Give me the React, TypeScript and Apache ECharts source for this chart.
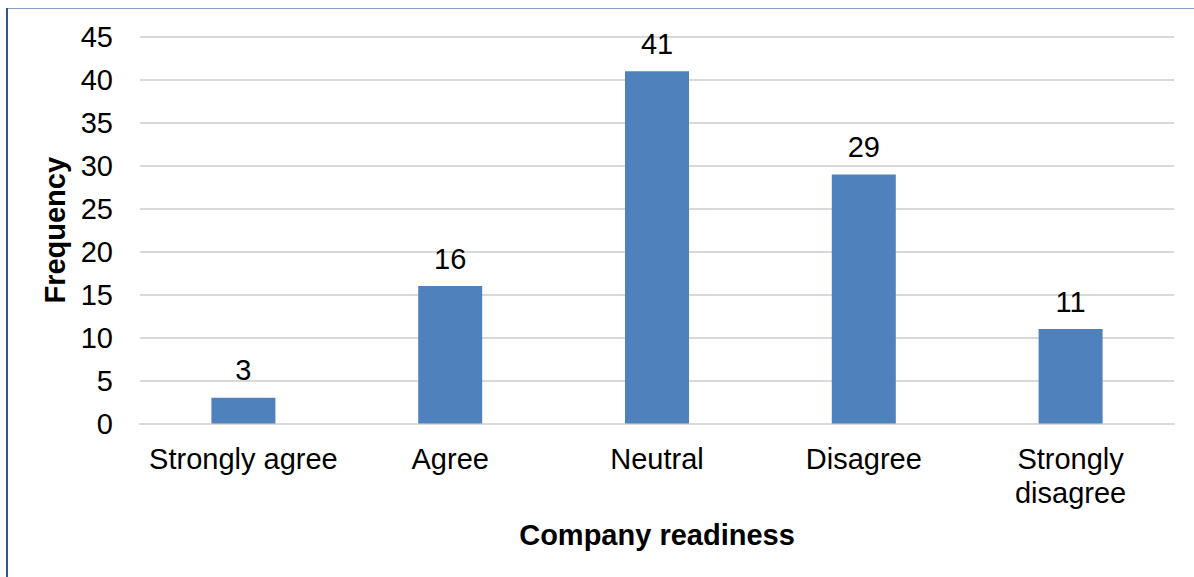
import React, { useEffect, useRef } from "react";
import * as echarts from "echarts";

const categories = ["Strongly agree", "Agree", "Neutral", "Disagree", "Strongly\ndisagree"];
const frequencies = [3, 16, 41, 29, 11];
const yMin = 0;
const yMax = 45;
const yStep = 5;

const FONT = "'Liberation Sans', Arial, sans-serif";

export default function App() {
  const ref = useRef<HTMLDivElement>(null);

  useEffect(() => {
    if (!ref.current) return;
    const chart = echarts.init(ref.current, undefined, { renderer: "svg" });
    chart.setOption({
      animation: false,
      backgroundColor: "#ffffff",
      textStyle: { fontFamily: FONT },
      grid: { left: 140, right: 20, top: 37, bottom: 153.5, containLabel: false },
      graphic: [
        {
          type: "line",
          shape: { x1: 6, y1: 8.5, x2: 1194, y2: 8.5 },
          style: { stroke: "#7F9CCB", lineWidth: 1 },
          silent: true,
        },
        {
          type: "line",
          shape: { x1: 7, y1: 8, x2: 7, y2: 577 },
          style: { stroke: "#2F5597", lineWidth: 2 },
          silent: true,
        },
      ],
      xAxis: {
        type: "category",
        data: categories,
        name: "Company readiness",
        nameLocation: "middle",
        nameGap: 97,
        nameTextStyle: { fontSize: 29, fontWeight: "bold", color: "#000", fontFamily: FONT },
        axisLine: { show: true, lineStyle: { color: "#D9D9D9", width: 2 } },
        axisTick: { show: false },
        axisLabel: {
          fontSize: 29,
          color: "#000",
          margin: 18,
          lineHeight: 34,
          fontFamily: FONT,
          interval: 0,
        },
      },
      yAxis: {
        type: "value",
        min: yMin,
        max: yMax,
        interval: yStep,
        name: "Frequency",
        nameLocation: "middle",
        nameGap: 66,
        nameTextStyle: { fontSize: 29, fontWeight: "bold", color: "#000", fontFamily: FONT },
        axisLine: { show: false },
        axisTick: { show: false },
        axisLabel: { fontSize: 29, color: "#000", margin: 27, fontFamily: FONT },
        splitLine: { show: true, lineStyle: { color: "#D9D9D9", width: 2 } },
      },
      series: [
        {
          type: "bar",
          data: frequencies,
          barWidth: 64,
          itemStyle: { color: "#4F81BD" },
          label: {
            show: true,
            position: "top",
            distance: 13,
            fontSize: 29,
            color: "#000",
            fontFamily: FONT,
          },
        },
      ],
    });
    return () => chart.dispose();
  }, []);

  return (
    <div
      ref={ref}
      style={{ position: "fixed", left: 0, top: 0, width: 1194, height: 577 }}
    />
  );
}
